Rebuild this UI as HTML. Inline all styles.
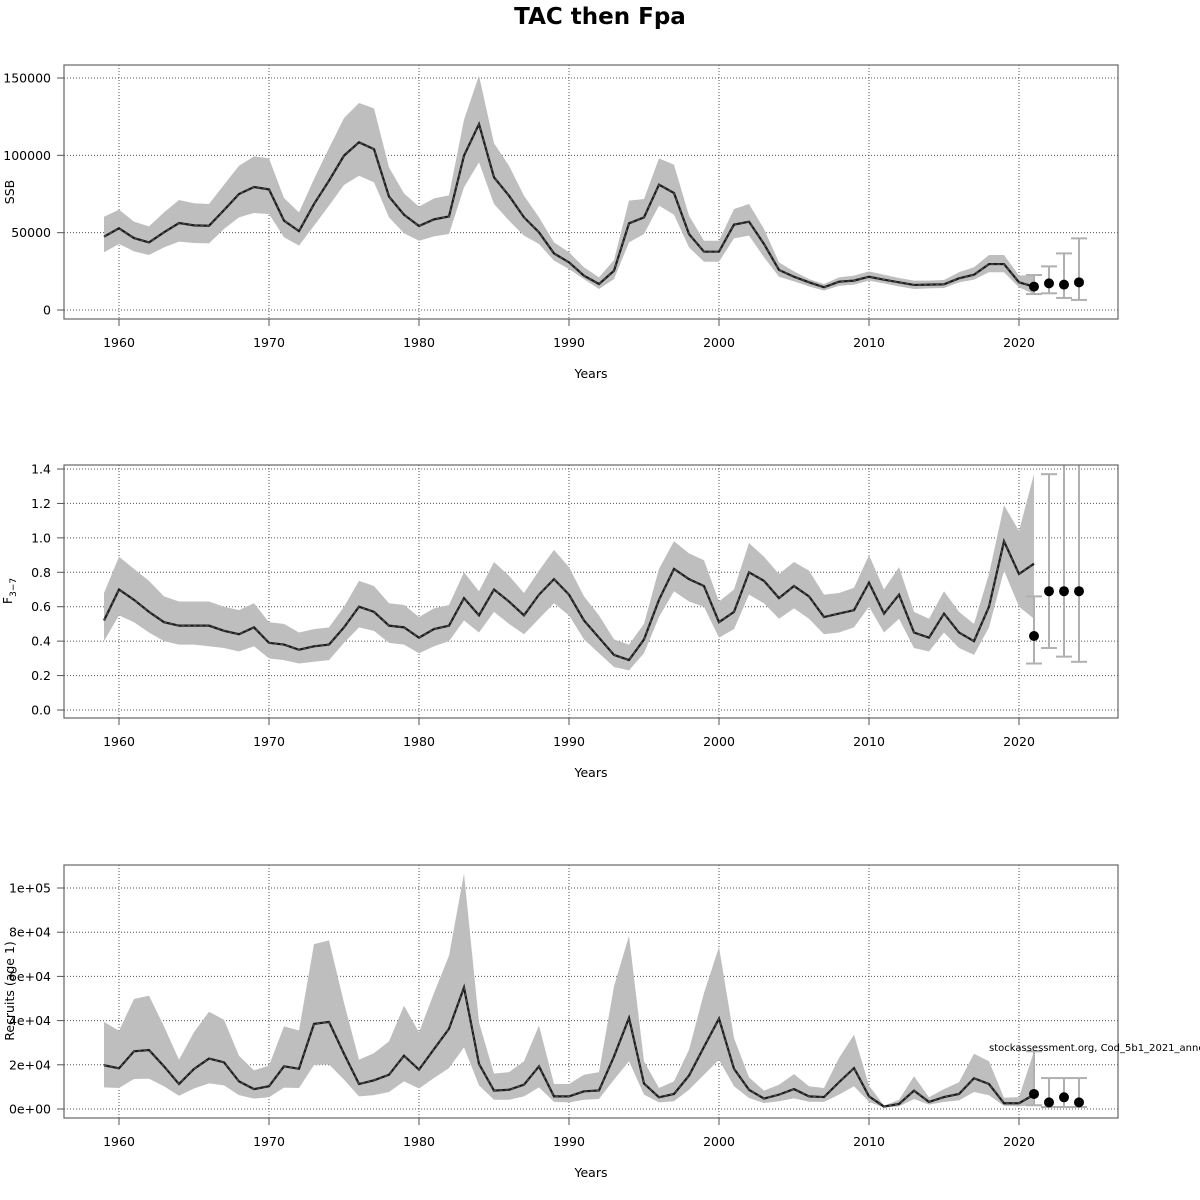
<!DOCTYPE html>
<html><head><meta charset="utf-8">
<style>
html,body{margin:0;padding:0;background:#fff;width:1200px;height:1200px;overflow:hidden}
svg text{font-family:"DejaVu Sans","Liberation Sans",sans-serif}
</style></head>
<body>
<svg id="c" width="1200" height="1200" xmlns="http://www.w3.org/2000/svg">
<text x="600" y="24" text-anchor="middle" font-size="23" font-weight="bold">TAC then Fpa</text>
</svg>
<script>
const years = [];
for (let y = 1959; y <= 2021; y++) years.push(y);
const projYears = [2021, 2022, 2023, 2024];

const ssbEst = [47400,52800,46500,43700,50200,56200,54700,54500,64600,75000,79500,78000,57800,51000,68500,83600,99800,108400,104000,73300,61600,54300,58600,60500,99800,120200,85800,73900,59900,50200,36600,30800,22200,16800,25400,56000,59900,81000,75600,49100,37700,37700,55200,57100,42700,25900,21500,17900,14700,18300,19000,21500,19600,17900,16200,16400,16600,20500,22800,29700,29700,17900,15100];
const ssbHi = [60300,64900,57100,54100,63100,71100,69000,68500,81000,93300,99300,98000,72400,63100,84700,104700,124100,133800,130400,92200,75400,66800,72200,74100,123000,151500,107800,93300,73900,59900,43700,37300,27600,21100,32300,70700,71800,98000,93900,61000,44800,44800,65300,68500,52400,30800,25000,20000,16800,21100,22200,25000,22800,20700,19000,19000,19400,24400,27600,35600,35600,22200,22600];
const ssbLo = [37300,42700,37900,35600,40500,44200,43300,43100,52400,59900,62700,62100,47000,41600,54500,67500,80800,86800,82500,59900,49600,44800,47600,49100,79300,95500,68500,57800,48100,42700,31900,26500,20000,13600,20000,43700,49100,67500,61600,40500,31200,31200,46300,48100,34100,21500,18500,15300,12500,15700,16400,19000,17200,15300,13600,14000,14200,17900,19600,24400,24400,14700,10300];
const ssbProj = [15100,17200,16400,17900];
const ssbProjHi = [22600,28200,36600,46300];
const ssbProjLo = [10300,10800,7800,6500];
const ssbTicks = [0,50000,100000,150000];
const ssbTickLabels = ["0","50000","100000","150000"];

const fEst = [0.52,0.70,0.64,0.57,0.51,0.49,0.49,0.49,0.46,0.44,0.48,0.39,0.38,0.35,0.37,0.38,0.48,0.60,0.57,0.49,0.48,0.42,0.47,0.49,0.65,0.55,0.70,0.63,0.55,0.67,0.76,0.67,0.52,0.42,0.32,0.29,0.41,0.64,0.82,0.76,0.72,0.51,0.57,0.80,0.75,0.65,0.72,0.66,0.54,0.56,0.58,0.74,0.56,0.67,0.45,0.42,0.56,0.45,0.40,0.60,0.98,0.79,0.85];
const fHi = [0.68,0.89,0.82,0.75,0.66,0.63,0.63,0.63,0.60,0.58,0.62,0.51,0.50,0.45,0.47,0.48,0.60,0.75,0.72,0.62,0.61,0.54,0.59,0.61,0.80,0.69,0.86,0.78,0.68,0.81,0.93,0.83,0.66,0.55,0.41,0.38,0.50,0.82,0.98,0.91,0.87,0.63,0.70,0.97,0.89,0.79,0.86,0.81,0.67,0.68,0.71,0.90,0.70,0.83,0.57,0.53,0.69,0.57,0.50,0.79,1.19,1.04,1.37];
const fLo = [0.40,0.55,0.51,0.45,0.40,0.38,0.38,0.37,0.36,0.34,0.37,0.30,0.29,0.27,0.28,0.29,0.39,0.48,0.46,0.39,0.38,0.33,0.37,0.40,0.52,0.45,0.57,0.50,0.44,0.53,0.62,0.55,0.41,0.33,0.25,0.23,0.33,0.54,0.69,0.63,0.60,0.42,0.47,0.67,0.62,0.53,0.59,0.53,0.44,0.45,0.48,0.60,0.45,0.53,0.36,0.34,0.45,0.36,0.32,0.48,0.81,0.60,0.53];
const fProj = [0.43,0.69,0.69,0.69];
const fProjHi = [0.66,1.37,1.6,1.6];
const fProjLo = [0.27,0.36,0.31,0.28];
const fTicks = [0,0.2,0.4,0.6,0.8,1.0,1.2,1.4];
const fTickLabels = ["0.0","0.2","0.4","0.6","0.8","1.0","1.2","1.4"];

const recEst = [19800,18400,26100,26700,19300,11300,18100,22800,21100,12500,9000,10300,19300,18200,38500,39400,25000,11300,13000,15500,24100,17800,27100,36300,55000,20400,8300,8700,11000,19300,5700,5700,8000,8400,23800,41200,11500,5300,6800,15100,28100,40900,18200,8700,4700,6500,9000,5700,5400,12100,18500,5700,1100,2300,8300,3200,5400,6800,13900,11300,2600,2600,6500];
const recHi = [39400,35400,49800,51300,37400,22300,34800,44000,40400,24100,17500,19600,37400,35600,74600,76300,48000,22300,25300,30600,46700,34700,52500,69400,106500,39200,16000,16700,21600,37800,11300,11300,15500,16700,55500,78400,21600,9500,12500,26800,52500,73300,32100,14300,8300,11000,15800,10300,9500,23100,33600,10600,1500,4200,14800,5300,9000,12100,25000,21600,5100,5400,26100];
const recLo = [9800,9500,13600,13700,10300,6000,9300,11600,10700,6300,4700,5300,9700,9500,19900,20200,13300,5700,6300,7700,12500,9300,14000,18500,27900,10700,4200,4200,5700,9800,3200,3000,4200,4500,13300,21600,6500,3000,3500,8700,15500,22300,10300,5000,2700,3500,4800,3300,3200,6500,10300,3200,600,1200,4500,2000,3200,3900,7700,6200,1400,1200,1700];
const recProj = [6800,3000,5300,3000];
const recProjHi = [26100,14000,14000,14000];
const recProjLo = [1700,900,900,900];
const recTicks = [0,20000,40000,60000,80000,100000];
const recTickLabels = ["0e+00","2e+04","4e+04","6e+04","8e+04","1e+05"];

const xTicks = [1960,1970,1980,1990,2000,2010,2020];

const NS = "http://www.w3.org/2000/svg";
const svg = document.getElementById('c');
function mk(tag, attrs, parent) {
  const e = document.createElementNS(NS, tag);
  for (const k in attrs) e.setAttribute(k, attrs[k]);
  (parent || svg).appendChild(e);
  return e;
}
const X0 = 64, X1 = 1118;
function xScale(yr) { return 119 + (yr - 1960) * 15; }

function panel(cfg) {
  const g = mk('g', {});
  
  
  const yS = v => cfg.y0 - v * cfg.k;
  const cid = 'clip-' + cfg.name;
  const cp = mk('clipPath', {id: cid}, g);
  mk('rect', {x: X0, y: cfg.top, width: X1 - X0, height: cfg.bot - cfg.top}, cp);
  // grid
  const grid = mk('g', {stroke: '#555', 'stroke-width': 1, 'stroke-dasharray': '1,2'}, g);
  
  
  xTicks.forEach(t => mk('line', {x1: xScale(t), x2: xScale(t), y1: cfg.top, y2: cfg.bot}, grid));
  cfg.ticks.forEach(t => mk('line', {x1: X0, x2: X1, y1: yS(t), y2: yS(t)}, grid));
  // band
  let d = '';
  years.forEach((yr, i) => { d += (i ? 'L' : 'M') + xScale(yr) + ',' + yS(cfg.hi[i]); });
  for (let i = years.length - 1; i >= 0; i--) d += 'L' + xScale(years[i]) + ',' + yS(cfg.lo[i]);
  const band = mk('path', {d: d + 'Z', fill: '#bebebe', 'clip-path': 'url(#' + cid + ')'}, g);
  
  
  const pts = years.map((yr, i) => xScale(yr) + ',' + yS(cfg.est[i])).join(' ');
  const ln = mk('polyline', {points: pts, fill: 'none', stroke: '#1a1a1a', 'stroke-width': 2.2}, g);
  
  
  mk('polyline', {points: pts, fill: 'none', stroke: '#555', 'stroke-width': 1, 'stroke-dasharray': '3,3'}, g);
  // projections
  projYears.forEach((yr, i) => {
    const x = xScale(yr);
    const eb = mk('g', {stroke: '#b0b0b0', 'stroke-width': 2, 'clip-path': 'url(#' + cid + ')'}, g);
    
    
    mk('line', {x1: x, x2: x, y1: yS(cfg.pHi[i]), y2: yS(cfg.pLo[i])}, eb);
    mk('line', {x1: x - 8, x2: x + 8, y1: yS(cfg.pHi[i]), y2: yS(cfg.pHi[i])}, eb);
    mk('line', {x1: x - 8, x2: x + 8, y1: yS(cfg.pLo[i]), y2: yS(cfg.pLo[i])}, eb);
    const c = mk('circle', {cx: x, cy: yS(cfg.p[i]), r: 5, fill: '#000'}, g);
    
    
  });
  // box
  mk('rect', {x: X0, y: cfg.top, width: X1 - X0, height: cfg.bot - cfg.top, fill: 'none', stroke: '#666', 'stroke-width': 1.2}, g);
  // y ticks
  const ya = mk('g', {}, g);
  
  
  cfg.ticks.forEach((t, i) => {
    mk('line', {x1: 57, x2: X0, y1: yS(t), y2: yS(t), stroke: '#555'}, ya);
    const tx = mk('text', {x: 51, y: yS(t) + 4.5, 'text-anchor': 'end', 'font-size': 12.5}, ya);
    tx.textContent = cfg.labels[i];
  });
  // x ticks
  const xa = mk('g', {}, g);
  
  
  xTicks.forEach(t => {
    mk('line', {x1: xScale(t), x2: xScale(t), y1: cfg.bot, y2: cfg.bot + 7, stroke: '#555'}, xa);
    const tx = mk('text', {x: xScale(t), y: cfg.bot + 28, 'text-anchor': 'middle', 'font-size': 12.5}, xa);
    tx.textContent = t;
  });
  const xt = mk('text', {x: 591, y: cfg.bot + 59, 'text-anchor': 'middle', 'font-size': 12.5}, g);
  
  
  xt.textContent = 'Years';
  return {g, yS};
}

panel({name: 'ssb', top: 65, bot: 319, y0: 310, k: 232 / 150000, est: ssbEst, hi: ssbHi, lo: ssbLo, p: ssbProj, pHi: ssbProjHi, pLo: ssbProjLo, ticks: ssbTicks, labels: ssbTickLabels});
panel({name: 'f', top: 465, bot: 718, y0: 710, k: 241 / 1.4, est: fEst, hi: fHi, lo: fLo, p: fProj, pHi: fProjHi, pLo: fProjLo, ticks: fTicks, labels: fTickLabels});
panel({name: 'recruits', top: 865, bot: 1118, y0: 1109, k: 221 / 100000, est: recEst, hi: recHi, lo: recLo, p: recProj, pHi: recProjHi, pLo: recProjLo, ticks: recTicks, labels: recTickLabels});

const t1 = mk('text', {x: 14, y: 192, 'text-anchor': 'middle', 'font-size': 12.5, transform: 'rotate(-90 14 192)'});


t1.textContent = 'SSB';
const t2 = mk('text', {x: 12, y: 591, 'text-anchor': 'middle', 'font-size': 12.5, transform: 'rotate(-90 12 591)'});


t2.innerHTML = 'F<tspan font-size="9" dy="4">3\u22127</tspan>';
const t3 = mk('text', {x: 14, y: 991, 'text-anchor': 'middle', 'font-size': 12.5, transform: 'rotate(-90 14 991)'});


t3.textContent = 'Recruits (age 1)';
const src = mk('text', {x: 989, y: 1051, 'font-size': 10});


src.textContent = 'stockassessment.org, Cod_5b1_2021_annex';
</script>
</body></html>
